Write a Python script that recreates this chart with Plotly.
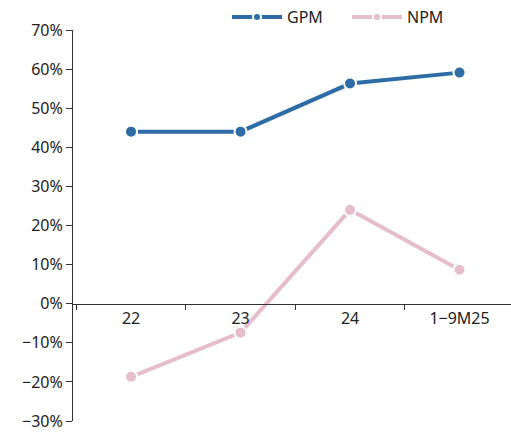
import plotly.graph_objects as go

categories = ["22", "23", "24", "1\u22129M25"]
gpm = [44.0, 44.0, 56.3, 59.1]
npm = [-18.7, -7.4, 24.0, 8.7]
ytick_vals = [70, 60, 50, 40, 30, 20, 10, 0, -10, -20, -30]
ytick_text = ["70%", "60%", "50%", "40%", "30%", "20%", "10%", "0%", "\u221210%", "\u221220%", "\u221230%"]

FONT = "Noto Sans"
blue = "#2E6CA6"
pink = "#E6BDCB"

fig = go.Figure()
for name, vals, col in [("GPM", gpm, blue), ("NPM", npm, pink)]:
    fig.add_trace(go.Scatter(x=categories, y=vals, name=name, mode="lines+markers",
                             line=dict(color=col, width=4),
                             marker=dict(size=12, color=col, line=dict(color="white", width=2)),
                             cliponaxis=False, showlegend=False))
for name, col in [("GPM", blue), ("NPM", pink)]:
    fig.add_trace(go.Scatter(x=[None], y=[None], name=name, mode="lines+markers",
                             line=dict(color=col, width=4),
                             marker=dict(size=8, color=col, line=dict(color="white", width=2)),
                             showlegend=True))

H = 432
mt, mb = 0, 11
plot_top_px = 30
paper_h = H - mt - mb
dom_top = (paper_h - (plot_top_px - mt)) / paper_h

ymin, ymax = -30, 70
fig.update_layout(
    width=511, height=H,
    margin=dict(l=73, r=0, t=mt, b=mb, pad=0),
    paper_bgcolor="white", plot_bgcolor="white",
    font=dict(family=FONT, size=16, color="#222222"),
    legend=dict(orientation="h", x=(227 - 73) / 438, xanchor="left", y=1.0, yanchor="top",
                font=dict(size=16), itemwidth=50, traceorder="normal",
                entrywidth=55, entrywidthmode="pixels",
                bgcolor="rgba(0,0,0,0)"),
    showlegend=True,
    xaxis=dict(type="category", range=[-0.53, 3.47], showgrid=False, zeroline=False,
               showline=True, linecolor="#333333", linewidth=1, automargin=False,
               ticks="outside", ticklen=5, tickcolor="#333333", tickson="boundaries",
               anchor="free", position=dom_top * (0 - ymin) / (ymax - ymin),
               tickfont=dict(size=16)),
    yaxis=dict(range=[ymin, ymax], domain=[0, dom_top], tickvals=ytick_vals, ticktext=ytick_text,
               showgrid=False, zeroline=False, showline=True, linecolor="#333333",
               linewidth=1, ticks="outside", ticklen=6, tickcolor="#333333", automargin=False,
               tickfont=dict(size=16)),
)
fig.write_html("out.html", config={"displayModeBar": False},
               post_script="document.body.style.margin='0';document.body.style.overflow='hidden';")
